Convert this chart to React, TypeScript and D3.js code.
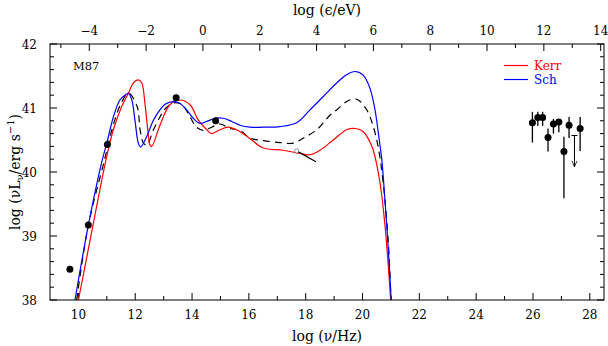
import React, {useRef, useEffect} from 'react';
import * as d3 from 'd3';

// frequency (log nu / Hz) and luminosity (log nu L_nu)
const kerrNu = [10.0, 10.48, 10.97, 11.23, 11.52, 11.76, 11.93, 12.11, 12.23, 12.34, 12.43, 12.52, 12.58, 12.87, 13.22, 13.58, 13.93, 14.22, 14.52, 14.69, 14.98, 15.28, 15.69, 16.04, 16.51, 17.21, 17.80, 18.15, 18.50, 18.97, 19.44, 19.74, 20.03, 20.26, 20.38, 20.62, 20.79, 20.91, 20.99];
const kerrL = [38.0, 39.09, 40.19, 40.66, 41.02, 41.23, 41.39, 41.44, 41.39, 41.08, 40.71, 40.42, 40.40, 40.73, 41.05, 41.125, 41.05, 40.81, 40.66, 40.60, 40.66, 40.70, 40.63, 40.52, 40.375, 40.34, 40.29, 40.27, 40.34, 40.50, 40.66, 40.68, 40.63, 40.47, 40.34, 39.82, 39.17, 38.52, 38.0];

const schNu = [9.88, 10.35, 10.84, 11.0, 11.23, 11.46, 11.64, 11.76, 11.88, 11.99, 12.11, 12.19, 12.40, 12.64, 12.87, 13.05, 13.34, 13.58, 13.81, 14.04, 14.28, 14.52, 14.81, 15.10, 15.40, 15.69, 16.04, 16.51, 17.10, 17.68, 18.15, 18.62, 19.09, 19.44, 19.74, 20.03, 20.26, 20.44, 20.56, 20.68, 20.79, 20.91, 21.01];
const schL = [38.0, 39.17, 40.19, 40.45, 40.86, 41.125, 41.20, 41.23, 41.125, 40.81, 40.45, 40.39, 40.55, 40.81, 40.97, 41.06, 41.10, 41.07, 40.97, 40.84, 40.76, 40.79, 40.84, 40.84, 40.79, 40.73, 40.70, 40.70, 40.71, 40.77, 40.97, 41.18, 41.39, 41.52, 41.57, 41.51, 41.31, 40.97, 40.60, 40.19, 39.56, 38.78, 38.0];

const midNu = [9.94, 10.35, 10.92, 11.18, 11.46, 11.76, 12.07, 12.17, 12.29, 12.41, 12.64, 12.87, 13.08, 13.36, 13.58, 13.72, 13.93, 14.16, 14.40, 14.69, 14.98, 15.34, 15.69, 16.04, 16.51, 17.10, 17.56, 17.92, 18.39, 18.86, 19.09, 19.44, 19.67, 19.85, 20.15, 20.38, 20.56, 20.73, 20.91, 21.0];
const midL = [38.0, 39.17, 40.19, 40.66, 41.03, 41.23, 41.02, 40.66, 40.45, 40.42, 40.66, 40.86, 41.0, 41.08, 41.07, 41.02, 40.86, 40.70, 40.65, 40.70, 40.75, 40.68, 40.65, 40.53, 40.49, 40.46, 40.45, 40.53, 40.66, 40.89, 40.97, 41.10, 41.14, 41.125, 40.97, 40.71, 40.37, 39.82, 38.89, 38.0];

// x-ray power law segment
const xrayNu = [17.68, 18.36];
const xrayL = [40.33, 40.16];

// low energy observations
const obsNu = [9.70, 10.35, 11.02, 13.44, 14.83];
const obsL = [38.48, 39.17, 40.43, 41.16, 40.80];

// gamma-ray observations with error bars
const gamNu = [25.98, 26.17, 26.34, 26.53, 26.72, 26.91, 27.09, 27.27, 27.66];
const gamL = [40.77, 40.85, 40.85, 40.54, 40.75, 40.78, 40.32, 40.73, 40.68];
const gamHi = [40.94, 40.94, 40.94, 40.68, 40.83, 40.83, 40.55, 40.86, 40.86];
const gamLo = [40.46, 40.72, 40.72, 40.32, 40.60, 40.62, 39.59, 40.53, 40.33];

// upper limit
const limNu = [27.46];
const limTop = [40.57];
const limTip = [40.08];

const xTicks = [10, 12, 14, 16, 18, 20, 22, 24, 26, 28];
const eTicks = [-4, -2, 0, 2, 4, 6, 8, 10, 12, 14];
const yTicks = [38, 39, 40, 41, 42];

const legend = ['Kerr', 'Sch'];
const legendColors = ['#ff0000', '#0000ff'];

const W = 608, H = 346;
const LOG_H_EV = 14.383; // log(nu/Hz) - log(eps/eV)
const font = '"DejaVu Serif", serif';

export default function App() {
    const svgRef = useRef(null);

    useEffect(() => {
        const svg = d3.select(svgRef.current);
        svg.selectAll('*').remove();

        const x = d3.scaleLinear().domain([9, 28.5]).range([50, 604]);
        const y = d3.scaleLinear().domain([38, 42]).range([300, 44]);
        const [x0, x1] = x.range();
        const [y0, y1] = y.range();

        svg.append('clipPath').attr('id', 'plotclip')
            .append('rect').attr('x', x0).attr('y', y1).attr('width', x1 - x0).attr('height', y0 - y1);

        // ticks on all four sides, inward
        const g = svg.append('g').attr('stroke', '#000').attr('stroke-width', 1);
        d3.range(10, 29).forEach(v => {
            const len = v % 2 === 0 ? 7 : 4;
            g.append('line').attr('x1', x(v)).attr('x2', x(v)).attr('y1', y0).attr('y2', y0 - len);
        });
        d3.range(-5, 15).forEach(e => {
            const xv = x(e + LOG_H_EV);
            if (xv < x0 || xv > x1) return;
            const len = e % 2 === 0 ? 7 : 4;
            g.append('line').attr('x1', xv).attr('x2', xv).attr('y1', y1).attr('y2', y1 + len);
        });
        d3.range(38, 42.01, 0.2).forEach(v => {
            const major = Math.abs(v - Math.round(v)) < 0.01;
            const len = major ? 7 : 4;
            g.append('line').attr('x1', x0).attr('x2', x0 + len).attr('y1', y(v)).attr('y2', y(v));
            g.append('line').attr('x1', x1).attr('x2', x1 - len).attr('y1', y(v)).attr('y2', y(v));
        });

        // tick labels
        const lab = svg.append('g').attr('font-family', font).attr('font-size', 12).attr('fill', '#000');
        const fmt = (v: number) => (v < 0 ? '\u2212' + Math.abs(v) : String(v));
        xTicks.forEach(v => lab.append('text').attr('x', x(v)).attr('y', 319).attr('text-anchor', 'middle').text(fmt(v)));
        eTicks.forEach(v => lab.append('text').attr('x', x(v + LOG_H_EV)).attr('y', 35).attr('text-anchor', 'middle').text(fmt(v)));
        yTicks.forEach(v => lab.append('text').attr('x', 37).attr('y', y(v) + 4.5).attr('text-anchor', 'end').text(fmt(v)));

        // axis titles
        svg.append('text').attr('x', (x0 + x1) / 2).attr('y', 341)
            .attr('text-anchor', 'middle').attr('font-family', font).attr('font-size', 14).text('log (\u03bd/Hz)');
        svg.append('text').attr('x', (x0 + x1) / 2).attr('y', 15)
            .attr('text-anchor', 'middle').attr('font-family', font).attr('font-size', 14).text('log (\u03f5/eV)');
        const yl = svg.append('text').attr('transform', `translate(20,${(y0 + y1) / 2}) rotate(-90)`)
            .attr('text-anchor', 'middle').attr('font-family', font).attr('font-size', 14);
        yl.append('tspan').text('log (\u03bdL');
        yl.append('tspan').attr('font-size', 10).attr('dy', 3).text('\u03bd');
        yl.append('tspan').attr('dy', -3).text('/erg s');
        yl.append('tspan').attr('font-size', 10).attr('dy', -6).text('\u22121');
        yl.append('tspan').attr('dy', 6).text(')');

        const plot = svg.append('g').attr('clip-path', 'url(#plotclip)');
        const line = d3.line<[number, number]>().x(d => x(d[0])).y(d => y(d[1])).curve(d3.curveCatmullRom.alpha(0.5));
        const zip = (a: number[], b: number[]) => a.map((v, i) => [v, b[i]] as [number, number]);

        plot.append('path').attr('d', line(zip(midNu, midL))).attr('fill', 'none')
            .attr('stroke', '#000').attr('stroke-width', 1.2).attr('stroke-dasharray', '7,5');
        plot.append('path').attr('d', line(zip(kerrNu, kerrL))).attr('fill', 'none')
            .attr('stroke', legendColors[0]).attr('stroke-width', 1.2);
        plot.append('path').attr('d', line(zip(schNu, schL))).attr('fill', 'none')
            .attr('stroke', legendColors[1]).attr('stroke-width', 1.2);

        // x-ray
        plot.append('line').attr('x1', x(xrayNu[0])).attr('y1', y(xrayL[0])).attr('x2', x(xrayNu[1])).attr('y2', y(xrayL[1]))
            .attr('stroke', '#000').attr('stroke-width', 1.3);
        plot.append('circle').attr('cx', x(xrayNu[0])).attr('cy', y(xrayL[0])).attr('r', 2)
            .attr('fill', '#fff').attr('stroke', '#888').attr('stroke-width', 1);

        // observed points
        plot.selectAll('circle.obs').data(obsNu).join('circle').attr('class', 'obs')
            .attr('cx', d => x(d)).attr('cy', (d, i) => y(obsL[i])).attr('r', 3.5).attr('fill', '#000');

        // gamma-ray points
        gamNu.forEach((v, i) => {
            plot.append('line').attr('x1', x(v)).attr('x2', x(v)).attr('y1', y(gamHi[i])).attr('y2', y(gamLo[i]))
                .attr('stroke', '#000').attr('stroke-width', 1.3);
            plot.append('circle').attr('cx', x(v)).attr('cy', y(gamL[i])).attr('r', 3.5).attr('fill', '#000');
        });
        limNu.forEach((v, i) => {
            const xv = x(v), yt = y(limTop[i]), yb = y(limTip[i]);
            plot.append('line').attr('x1', xv - 3).attr('x2', xv + 3).attr('y1', yt).attr('y2', yt).attr('stroke', '#000');
            plot.append('line').attr('x1', xv).attr('x2', xv).attr('y1', yt).attr('y2', yb).attr('stroke', '#000');
            plot.append('path').attr('d', `M${xv - 2.5},${yb - 6}L${xv},${yb}L${xv + 2.5},${yb - 6}`)
                .attr('fill', 'none').attr('stroke', '#000').attr('stroke-width', 0.8);
        });

        // frame
        svg.append('rect').attr('x', x0).attr('y', y1).attr('width', x1 - x0).attr('height', y0 - y1)
            .attr('fill', 'none').attr('stroke', '#000').attr('stroke-width', 1);

        // labels
        svg.append('text').attr('x', 73).attr('y', 70).attr('font-family', font).attr('font-size', 11.5).text('M87');
        legend.forEach((name, i) => {
            const ly = 65.5 + i * 14;
            svg.append('line').attr('x1', 504).attr('x2', 528).attr('y1', ly).attr('y2', ly)
                .attr('stroke', legendColors[i]).attr('stroke-width', 1.2);
            svg.append('text').attr('x', 534).attr('y', ly + 4.5).attr('font-family', font).attr('font-size', 12)
                .attr('fill', legendColors[i]).text(name);
        });
    }, []);

    return (
        <svg ref={svgRef} width={W} height={H} style={{position: 'absolute', left: 0, top: 0, background: '#fff'}}></svg>
    );
}
